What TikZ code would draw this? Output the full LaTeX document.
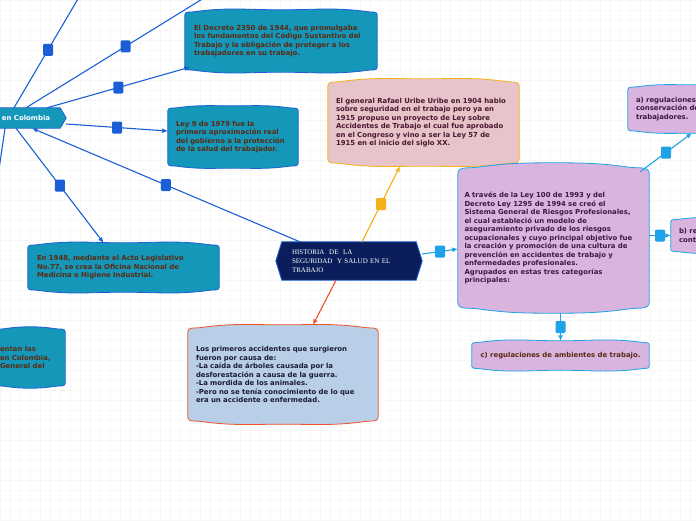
\documentclass[tikz,border=0pt]{standalone}
\usepackage{fontspec}
\usepackage{tikz}
\usetikzlibrary{arrows.meta,backgrounds}
\newfontfamily\boxfont{DejaVu Sans}
\newfontfamily\histfont{Liberation Serif}
\definecolor{mmTeal}{HTML}{1597B9}
\definecolor{mmBlue}{HTML}{1A5FD6}
\definecolor{mmSky}{HTML}{1EA2E8}
\definecolor{mmOrange}{HTML}{F5B01A}
\definecolor{mmRed}{HTML}{F0502A}
\definecolor{mmNavy}{HTML}{0B1E5B}
\definecolor{mmPink}{HTML}{E6C4CA}
\definecolor{mmLilac}{HTML}{D8B4DF}
\definecolor{mmIce}{HTML}{B9CEE7}
\definecolor{mmBrown}{HTML}{5A2A10}
\definecolor{mmMaroon}{HTML}{4A1830}
\definecolor{mmPlum}{HTML}{3C1A3C}
\definecolor{mmInk}{HTML}{1A1A33}
\tikzset{
  txt/.style={font=\boxfont\bfseries\fontsize{6.9}{8.5}\selectfont,align=left,inner sep=0pt},
  ln/.style={line width=1.1pt},
  cn/.style={line width=1.1pt,-{Latex[length=5.5pt,width=5pt]}},
  sq/.style={fill=#1,inner sep=0pt,minimum width=10pt,minimum height=12pt,rounded corners=1.2pt}
}
\begin{document}
\begin{tikzpicture}[x=1pt,y=-1pt]
\useasboundingbox (0,0) rectangle (696,520);
\clip (0,0) rectangle (696,520);
% nodes
\node[txt,text=white,minimum width=80pt,minimum height=20pt] (hub) at (26,118) {en Colombia};
\node[txt,text=mmBrown,minimum width=192pt,minimum height=62pt,text width=174pt] (decreto) at (281,41) {El Decreto 2350 de 1944, que promulgaba\\los fundamentos del Código Sustantivo del\\Trabajo y la obligación de proteger a los\\trabajadores en su trabajo.};
\node[txt,text=mmBrown,minimum width=130pt,minimum height=62pt,text width=114pt] (ley9) at (233,137) {Ley 9 de 1979 fue la\\primera aproximación real\\del gobierno a la protección\\de la salud del trabajador.};
\node[txt,text=mmMaroon,minimum width=191pt,minimum height=87pt,text width=175pt] (uribe) at (423.5,122.5) {El general Rafael Uribe Uribe en 1904 hablo\\sobre seguridad en el trabajo pero ya en\\1915 propuso un proyecto de Ley sobre\\Accidentes de Trabajo el cual fue aprobado\\en el Congreso y vino a ser la Ley 57 de\\1915 en el inicio del siglo XX.};
\node[txt,text=mmPlum,minimum width=191pt,minimum height=150pt,text width=178pt] (ley100) at (553.5,238) {A través de la Ley 100 de 1993 y del\\Decreto Ley 1295 de 1994 se creó el\\Sistema General de Riesgos Profesionales,\\el cual estableció un modelo de\\aseguramiento privado de los riesgos\\ocupacionales y cuyo principal objetivo fue\\la creación y promoción de una cultura de\\prevención en accidentes de trabajo y\\enfermedades profesionales.\\Agrupados en estas tres categorías\\principales:};
\node[txt,text=mmPlum,minimum width=132pt,minimum height=48pt,text width=116pt] (rega) at (694,109) {a) regulaciones\\conservación de\\trabajadores.};
\node[txt,text=mmPlum,minimum width=129pt,minimum height=35pt,text width=113pt] (regb) at (735.5,235.5) {b) re\\cont};
\node[txt,text=mmBrown,minimum width=177pt,minimum height=29pt] (regc) at (560.5,355.5) {c) regulaciones de ambientes de trabajo.};
\node[txt,text=mmInk,minimum width=190pt,minimum height=99pt,text width=174pt] (primeros) at (283,374.5) {Los primeros accidentes que surgieron\\fueron por causa de:\\-La caída de árboles causada por la\\desforestación a causa de la guerra.\\-La mordida de los animales.\\-Pero no se tenía conocimiento de lo que\\era un accidente o enfermedad.};
\node[txt,text=mmBrown,minimum width=191pt,minimum height=49pt,text width=173pt] (acto) at (123.5,267.5) {En 1948, mediante el Acto Legislativo\\No.77, se crea la Oficina Nacional de\\Medicina e Higiene Industrial.};
\node[txt,text=mmBrown,minimum width=70pt,minimum height=61pt,text width=60pt] (resto) at (30,357.5) {entan las\\en Colombia,\\General del};
\node[font=\histfont\fontsize{7}{9}\selectfont,text=white,align=left,inner sep=0pt,minimum width=146pt,minimum height=38pt,text width=114pt] (hist) at (349,261) {HISTORIA~~DE~~LA\\SEGURIDAD~~Y SALUD EN EL\\TRABAJO};
\coordinate (tl) at (82,-8);
\coordinate (tr) at (225,-15);
\coordinate (bl) at (-4,190);
% connectors
\draw[ln,mmBlue] ([xshift=-12]hub.north) -- node[sq=mmBlue]{} (tl);
\draw[ln,mmBlue] (hub.north) -- node[sq=mmBlue]{} (tr);
\draw[cn,mmBlue] ([xshift=21]hub.north) -- node[sq=mmBlue]{} ([shift={(5,-5)}]decreto.south west);
\draw[cn,mmBlue] ([yshift=-6]hub.east) -- node[sq=mmBlue]{} ([yshift=6]ley9.west);
\draw[cn,mmBlue] ([xshift=-10]hub.south) -- node[sq=mmBlue]{} ([xshift=-20]acto.north);
\draw[ln,mmBlue] ([xshift=-21]hub.south) -- (bl);
\draw[cn,mmBlue] ([xshift=24]hist.north west) -- node[sq=mmBlue]{} ([xshift=6]hub.south);
\draw[cn,mmOrange] ([xshift=13]hist.north) -- node[sq=mmOrange]{} ([xshift=-23.5]uribe.south);
\draw[cn,mmSky] ([yshift=7]hist.east) -- node[sq=mmSky]{} ([yshift=-11]ley100.west);
\draw[cn,mmRed] ([xshift=-13]hist.south) -- ([xshift=30]primeros.north);
\draw[cn,mmSky] ([shift={(-9,9)}]ley100.north east) -- node[sq=mmSky]{} ([xshift=64]rega.south west);
\draw[cn,mmSky] (ley100.east |- regb.west) -- node[sq=mmSky]{} (regb.west);
\draw[cn,mmSky] (regc.north |- ley100.south) -- node[sq=mmSky]{} (regc.north);
% shapes behind the text
\begin{scope}[on background layer]
\clip (0,0) rectangle (696,520);
\draw[step=10pt,black!3,line width=0.5pt] (0,0) grid (696,520);
\foreach \n/\fc/\dc/\b in {decreto/mmTeal/mmBlue/5,ley9/mmTeal/mmBlue/5,acto/mmTeal/mmBlue/5,resto/mmTeal/mmBlue/5,
  uribe/mmPink/mmOrange/7,ley100/mmLilac/mmSky/11,rega/mmLilac/mmSky/5,regb/mmLilac/mmSky/4,regc/mmLilac/mmSky/4,primeros/mmIce/mmRed/7}
  \filldraw[fill=\fc,draw=\dc,line width=0.8pt]
    ([yshift=-\b]\n.north west) to[out=90,in=190] ([xshift=1.8*\b,yshift=-0.4*\b]\n.north west) to[out=8,in=180] (\n.north)
    to[out=0,in=172] ([xshift=-1.8*\b,yshift=-0.4*\b]\n.north east) to[out=-10,in=90] ([yshift=-\b]\n.north east)
    -- ([yshift=\b]\n.south east) to[out=-90,in=10] ([xshift=-1.8*\b,yshift=0.4*\b]\n.south east) to[out=188,in=0] (\n.south)
    to[out=180,in=-8] ([xshift=1.8*\b,yshift=0.4*\b]\n.south west) to[out=170,in=-90] ([yshift=\b]\n.south west) -- cycle;
\filldraw[fill=mmTeal,draw=mmBlue,line width=0.8pt] ([xshift=-14]hub.north west) -- ([xshift=-6]hub.north east) -- (hub.east) -- ([xshift=-6]hub.south east) -- ([xshift=-14]hub.south west) -- cycle;
\filldraw[fill=mmNavy,draw=mmBlue,line width=0.8pt] (hist.west) -- ([xshift=6]hist.north west) -- ([xshift=-6]hist.north east) -- (hist.east) -- ([xshift=-6]hist.south east) -- ([xshift=6]hist.south west) -- cycle;
\end{scope}
\end{tikzpicture}
\end{document}
